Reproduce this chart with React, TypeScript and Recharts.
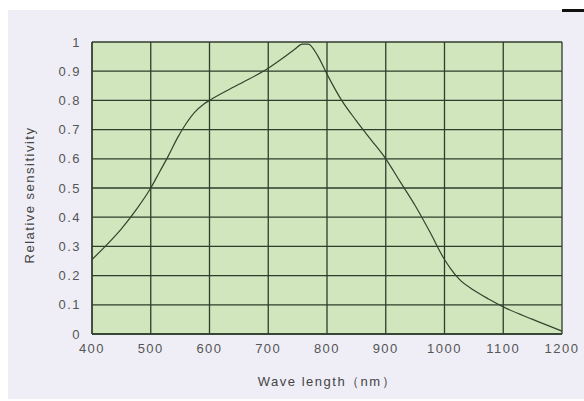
import React from "react";
import { LineChart, Line, XAxis, YAxis, CartesianGrid, Label } from "recharts";

const wavelengths = [400, 425, 450, 475, 500, 515, 530, 545, 560, 575, 590, 600, 650, 700, 725, 745, 758, 768, 785, 800, 825, 850, 875, 900, 925, 950, 975, 1000, 1010, 1025, 1050, 1075, 1100, 1150, 1200];
const sensitivity = [0.255, 0.305, 0.36, 0.425, 0.5, 0.555, 0.61, 0.67, 0.72, 0.76, 0.787, 0.8, 0.855, 0.91, 0.945, 0.975, 0.993, 0.993, 0.95, 0.89, 0.8, 0.73, 0.665, 0.6, 0.52, 0.44, 0.35, 0.255, 0.225, 0.188, 0.15, 0.12, 0.093, 0.05, 0.01];
const xTicks = [400, 500, 600, 700, 800, 900, 1000, 1100, 1200];
const yTicks = [0, 0.1, 0.2, 0.3, 0.4, 0.5, 0.6, 0.7, 0.8, 0.9, 1];

const data = wavelengths.map((w, i) => ({ w, s: sensitivity[i] }));

const font = "'Liberation Sans', Arial, sans-serif";
const tickStyle = { fill: "#555", fontSize: 13, fontFamily: font, letterSpacing: 1.5 };

const YLabel = (props: any) => {
  const vb = props.viewBox || { x: 0, y: 0, width: 0, height: 0 };
  const cx = vb.x + 29;
  const cy = vb.y + vb.height / 2 + 7;
  return (
    <text
      x={cx}
      y={cy}
      transform={`rotate(-90 ${cx} ${cy})`}
      textAnchor="middle"
      dominantBaseline="central"
      style={{ fill: "#444", fontSize: 13, fontFamily: font, letterSpacing: 1.5 }}
    >
      Relative sensitivity
    </text>
  );
};

export default function App() {
  return (
    <div style={{ position: "absolute", left: 0, top: 0, width: 584, height: 401, background: "#ffffff" }}>
      <div style={{ position: "absolute", left: 8, top: 10, width: 576, height: 389, background: "#efeef6" }} />
      <div style={{ position: "absolute", left: 562, top: 9, width: 22, height: 3, background: "#111" }} />
      <div style={{ position: "absolute", left: 0, top: 0 }}>
        <LineChart width={584} height={401} data={data} margin={{ top: 42, right: 22, left: 0, bottom: 0 }}>
          <CartesianGrid
            stroke="#2e3d2c"
            strokeWidth={1.3}
            fill="#d1e6bd"
            fillOpacity={1}
            verticalValues={xTicks}
            horizontalValues={yTicks}
          />
          <XAxis
            dataKey="w"
            type="number"
            domain={[400, 1200]}
            ticks={xTicks}
            height={67}
            axisLine={{ stroke: "#2e3d2c", strokeWidth: 1.3 }}
            tickLine={false}
            tickSize={0}
            tickMargin={10}
            tick={tickStyle}
          >
            <Label value="Wave length（nm）" position="insideBottom" offset={15} style={{ fill: "#444", fontSize: 13, fontFamily: font, letterSpacing: 1.5 }} />
          </XAxis>
          <YAxis
            type="number"
            domain={[0, 1]}
            ticks={yTicks}
            width={92}
            axisLine={{ stroke: "#2e3d2c", strokeWidth: 1.3 }}
            tickLine={false}
            tickSize={0}
            tickMargin={11}
            tick={tickStyle}
          >
            <Label content={<YLabel />} />
          </YAxis>
          <Line type="monotone" dataKey="s" stroke="#34432f" strokeWidth={1.2} dot={false} isAnimationActive={false} />
        </LineChart>
      </div>
    </div>
  );
}
